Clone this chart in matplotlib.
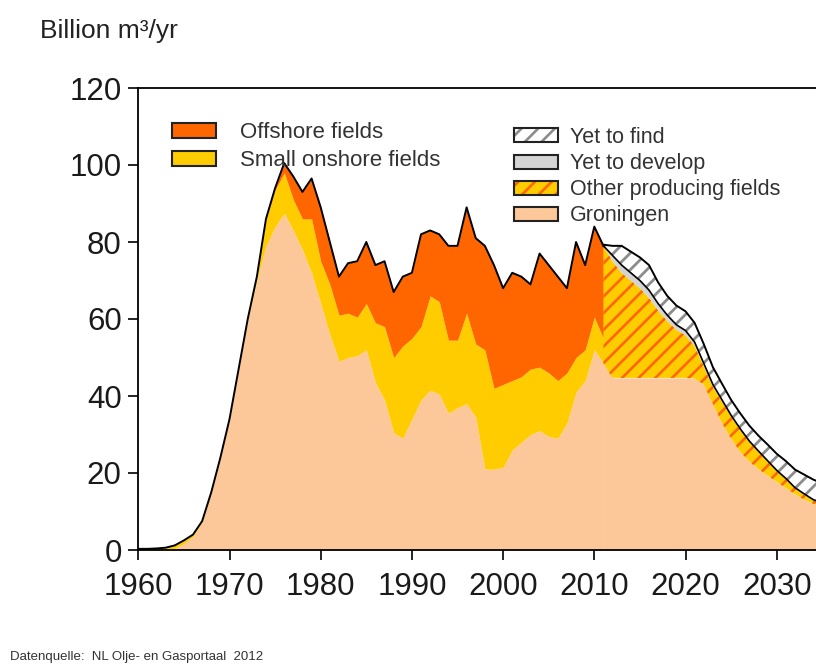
import numpy as np
import matplotlib
matplotlib.use("Agg")
import matplotlib.pyplot as plt
from matplotlib.patches import Patch
from matplotlib.legend_handler import HandlerTuple

plt.rcParams["font.family"] = ["Liberation Sans", "DejaVu Sans"]
plt.rcParams["hatch.linewidth"] = 1.9

# Historical production, billion m3/yr
years_hist = np.arange(1960, 2012)
groningen_hist = [0, 0, 0, 0, 0.4, 1.7, 3.5, 7.2, 14.7, 23.7,
                  33.7, 46.7, 59.5, 70, 79, 84, 87.5, 83, 78, 72,
                  64, 56, 49, 50, 50.5, 52, 43.5, 39, 30.5, 29,
                  34, 39, 41.5, 40.5, 35.5, 37, 38, 34.5, 21, 21,
                  21.5, 26, 28, 30, 31, 29.5, 29, 33, 41, 44,
                  52, 48.5]
onshore_hist = [0.3, 0.3, 0.4, 0.6, 0.8, 0.8, 0.5, 0.3, 0.3, 0.3,
                0.3, 0.3, 0.5, 1, 7, 9.5, 10.5, 8, 8, 14,
                11, 13, 12, 11.5, 10, 12, 15.5, 19, 19.5, 24,
                21, 19, 24.5, 24, 19, 17.5, 23.5, 19, 31, 21,
                21.5, 18, 17, 17, 16.5, 16.5, 15, 13, 9, 8,
                8.5, 6.5]
offshore_hist = [0, 0, 0, 0, 0, 0, 0, 0, 0, 0,
                 0, 0, 0, 0, 0, 0.5, 2.5, 6, 7, 10.5,
                 14, 11, 10, 13, 14.5, 16, 15, 17, 17, 18,
                 17, 24, 17, 17.5, 24.5, 24.5, 27.5, 27.5, 27, 32,
                 25, 28, 26, 22, 29.5, 28, 27, 22, 30, 22,
                 23.5, 24]

# Outlook
years_fc = np.arange(2011, 2036)
groningen_fc = [48.5, 44.7, 44.7, 44.7, 44.7, 44.7, 44.7, 44.7, 44.7, 44.7,
                44.5, 43, 38, 33, 29, 25.5, 23, 21, 19.3, 17.7,
                16.1, 14.5, 13.1, 12, 11]
other_fc = [30.5, 30.3, 27.3, 25.3, 23.3, 20.8, 17.5, 14.8, 12.5, 11.1,
            8.5, 4.7, 4.4, 5.5, 5.7, 5.7, 5, 4.5, 3.7, 2.8,
            2.3, 1.5, 1.3, 0.9, 0.8]
develop_fc = [0, 1.5, 2, 2, 2, 2, 1.8, 1.5, 1.3, 1.2,
              1, 0.8, 0.6, 0.5, 0.3, 0.3, 0.3, 0.2, 0.2, 0.2,
              0.2, 0.2, 0.2, 0.2, 0.2]
find_fc = [0.3, 2.5, 5, 5.5, 6, 6.5, 5.5, 5, 5, 5,
           5, 5, 4.5, 4.2, 4, 4, 4, 4, 4.2, 4.3,
           4.5, 4.7, 5, 5.2, 5.3]

c_gron = "#FDC899"
c_onsh = "#FFCC00"
c_offs = "#FF6600"
c_dev = "#D4D4D4"
c_find = "#8C8C8C"

fig = plt.figure(figsize=(8.16, 6.69), dpi=100)
ax = fig.add_axes([138.3 / 816, 1 - 550 / 669, 1.004 - 138.3 / 816, 462 / 669])

# history stack
g = np.array(groningen_hist)
gs = g + np.array(onshore_hist)
tot = gs + np.array(offshore_hist)
ax.fill_between(years_hist, 0, g, color=c_gron, lw=0)
ax.fill_between(years_hist, g, gs, color=c_onsh, lw=0)
ax.fill_between(years_hist, gs, tot, color=c_offs, lw=0)
ax.plot(years_hist, tot, color="black", lw=1.4)

# outlook stack
fg = np.array(groningen_fc)
fo = fg + np.array(other_fc)
fd = fo + np.array(develop_fc)
ff = fd + np.array(find_fc)
ax.fill_between(years_fc, 0, fg, color=c_gron, lw=0)
p_other = ax.fill_between(years_fc, fg, fo, facecolor=c_onsh, edgecolor=c_offs,
                          hatch="//", lw=0)
ax.fill_between(years_fc, fo, fd, color=c_dev, lw=0)
p_find = ax.fill_between(years_fc, fd, ff, facecolor="white", edgecolor=c_find,
                         hatch="//", lw=0)
for p, w in ((p_other, 1.9), (p_find, 2.0)):
    if hasattr(p, "set_hatch_linewidth"):
        p.set_hatch_linewidth(w)
ax.plot(years_fc, ff, color="black", lw=1.4)
ax.plot(years_fc, fd, color="black", lw=1.2)

ax.set_xlim(1960, 1960 + (816 * 1.004 - 138.3) / 9.12)
ax.set_ylim(0, 120)
ax.set_xticks(range(1960, 2031, 10))
ax.set_yticks(range(0, 121, 20))
ax.tick_params(axis="both", direction="out", length=7, width=1.2,
               labelsize=22.5, labelcolor="#1a1a1a", pad=5)
ax.tick_params(axis="x", pad=9)
for s in ax.spines.values():
    s.set_linewidth(1.3)
ax.spines["right"].set_visible(False)

# legends
def box(fc, hatch=None, hc=None):
    edge = Patch(facecolor="none", edgecolor="#222222", lw=1.5)
    if hatch:
        fill = Patch(facecolor=fc, edgecolor=hc, hatch=hatch, lw=0)
        return (fill, edge)
    return (Patch(facecolor=fc, edgecolor="none"), edge)

leg1 = ax.legend([box(c_offs), box(c_onsh)],
                 ["Offshore fields", "Small onshore fields"],
                 handler_map={tuple: HandlerTuple(ndivide=1)},
                 loc="upper left", bbox_to_anchor=(172 / 816, 1 - 122 / 669),
                 bbox_transform=fig.transFigure, frameon=False, fontsize=16,
                 handlelength=2.0, handleheight=0.65, handletextpad=1.04,
                 labelspacing=0.32, borderpad=0, borderaxespad=0,
                 labelcolor="#333333")
ax.add_artist(leg1)
ax.legend([box("white", "//", c_find), box(c_dev), box(c_onsh, "//", c_offs), box(c_gron)],
          ["Yet to find", "Yet to develop", "Other producing fields", "Groningen"],
          handler_map={tuple: HandlerTuple(ndivide=1)},
          loc="upper left", bbox_to_anchor=(514 / 816, 1 - 127 / 669),
          bbox_transform=fig.transFigure, frameon=False, fontsize=15.5,
          handlelength=2.05, handleheight=0.62, handletextpad=0.56,
          labelspacing=0.24, borderpad=0, borderaxespad=0,
          labelcolor="#333333")

fig.text(40 / 816, 1 - 31 / 669, "Billion m\u00b3/yr", fontsize=19,
         color="#222222", va="center", ha="left")
fig.text(10 / 816, 1 - 657 / 669, "Datenquelle:  NL Olje- en Gasportaal  2012",
         fontsize=9.5, color="#333333", va="center", ha="left")

fig.savefig("out.png", dpi=100)
